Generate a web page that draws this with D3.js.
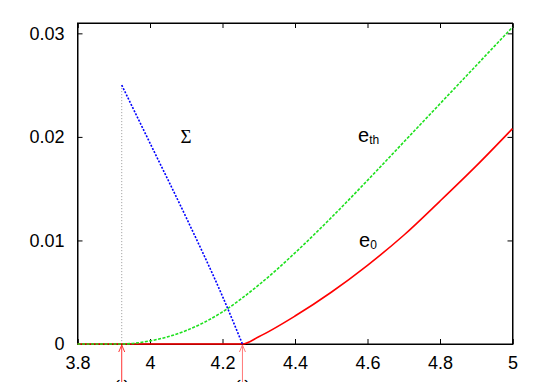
<!DOCTYPE html>
<html>
<head>
<meta charset="utf-8">
<script src="https://cdn.jsdelivr.net/npm/d3@7"></script>
<style>
  body { margin: 0; background: #fff; }
  text { font-family: "Liberation Sans", Arial, sans-serif; }
</style>
</head>
<body>
<div id="chart"></div>
<script>
// curves
var sigmaX = [3.922, 4.0, 4.1, 4.2, 4.255];
var sigmaY = [0.0250, 0.0194, 0.0122, 0.0046, 0];

var ethX = [3.8, 3.92, 4.0, 4.1, 4.2, 4.3, 4.4, 4.5, 4.6, 4.7, 4.8, 4.9, 5.0];
var ethY = [0, 0, 0.0003, 0.0013, 0.0031, 0.0057, 0.0088, 0.0122, 0.0158, 0.0195, 0.0232, 0.0269, 0.0306];

var e0X = [3.8, 4.255, 4.3, 4.4, 4.5, 4.6, 4.7, 4.8, 4.9, 5.0];
var e0Y = [0, 0, 0.0007, 0.0027, 0.0050, 0.0076, 0.0105, 0.0138, 0.0172, 0.0208];

var xTicks = [3.8, 4, 4.2, 4.4, 4.6, 4.8, 5];
var yTicks = [0, 0.01, 0.02, 0.03];
var arrowsX = [3.922, 4.255];

var W = 545, H = 382;
var m = { left: 77.5, right: 32.5, top: 23, bottom: 38 };

var x = d3.scaleLinear().domain([3.8, 5]).range([m.left, W - m.right]);
var y = d3.scaleLinear().domain([0, 0.031]).range([H - m.bottom, m.top]);

var svg = d3.select('#chart')
  .append('svg')
  .attr('width', W)
  .attr('height', H);

svg.append('rect').attr('width', W).attr('height', H).attr('fill', '#fff');

// axes, ticks pointing inward on all four sides
function fmtX(d) { return d3.format('')(+d.toFixed(1)); }
function fmtY(d) { return d === 0 ? '0' : d3.format('.2f')(d); }

var bottom = svg.append('g')
  .attr('transform', 'translate(0,' + y(0) + ')')
  .call(d3.axisBottom(x).tickValues(xTicks).tickSize(-5).tickFormat(fmtX));
bottom.selectAll('text').attr('dy', null).attr('y', 25);

svg.append('g')
  .attr('transform', 'translate(0,' + m.top + ')')
  .call(d3.axisTop(x).tickValues(xTicks).tickSize(-5).tickFormat(''));

var left = svg.append('g')
  .attr('transform', 'translate(' + m.left + ',0)')
  .call(d3.axisLeft(y).tickValues(yTicks).tickSize(-5).tickFormat(fmtY));
left.selectAll('text').attr('x', -13);

svg.append('g')
  .attr('transform', 'translate(' + (W - m.right) + ',0)')
  .call(d3.axisRight(y).tickValues(yTicks).tickSize(-5).tickFormat(''));

svg.selectAll('.domain').attr('stroke', '#000').attr('stroke-width', 1);
svg.selectAll('.tick line').attr('stroke', '#000');
svg.selectAll('.tick text')
  .attr('font-size', 18)
  .attr('fill', '#000')
  .style('font-family', '"Liberation Sans", Arial, sans-serif');

// frame
svg.append('rect')
  .attr('x', m.left).attr('y', m.top)
  .attr('width', x(5) - x(3.8)).attr('height', y(0) - y(0.031))
  .attr('fill', 'none').attr('stroke', '#000').attr('stroke-width', 1);

var line = d3.line()
  .x(function(d) { return x(d[0]); })
  .y(function(d) { return y(d[1]); })
  .curve(d3.curveMonotoneX);

function pairs(a, b) { return a.map(function(v, i) { return [v, b[i]]; }); }

// gray dotted guide at the start of sigma
svg.append('line')
  .attr('x1', x(sigmaX[0])).attr('x2', x(sigmaX[0]))
  .attr('y1', y(sigmaY[0])).attr('y2', y(0))
  .attr('stroke', '#999').attr('stroke-width', 1)
  .attr('stroke-dasharray', '1,2');

svg.append('path')
  .datum(pairs(e0X, e0Y))
  .attr('d', line)
  .attr('fill', 'none').attr('stroke', '#ff0000').attr('stroke-width', 1.6);

svg.append('path')
  .datum(pairs(ethX, ethY))
  .attr('d', line)
  .attr('fill', 'none').attr('stroke', '#1ee01e').attr('stroke-width', 1.6)
  .attr('stroke-dasharray', '3,1.5');

svg.append('path')
  .datum(pairs(sigmaX, sigmaY))
  .attr('d', line)
  .attr('fill', 'none').attr('stroke', '#0000ff').attr('stroke-width', 1.6)
  .attr('stroke-dasharray', '2,1.5');

// arrows under the axis, their labels run off the bottom edge as in the original
var arrowCol = ['#ff3333', '#ff7777'];
arrowsX.forEach(function(v, i) {
  var g = svg.append('g').attr('stroke', arrowCol[i]).attr('stroke-width', 1).attr('fill', 'none');
  var px = x(v), top = y(0) + 1;
  g.append('line').attr('x1', px).attr('x2', px).attr('y1', H).attr('y2', top);
  g.append('path').attr('d', 'M' + (px - 3) + ',' + (top + 7) + 'L' + px + ',' + top + 'L' + (px + 3) + ',' + (top + 7));
  svg.append('text')
    .attr('x', px).attr('y', 389)
    .attr('text-anchor', 'middle')
    .attr('font-size', 16)
    .text('ω');
});

// curve labels
svg.append('text')
  .attr('x', 186).attr('y', 143)
  .attr('text-anchor', 'middle')
  .style('font-family', '"Liberation Serif", "Times New Roman", serif')
  .attr('font-size', 19)
  .text('Σ');

function subLabel(px, py, main, sub) {
  var t = svg.append('text').attr('x', px).attr('y', py).attr('font-size', 20);
  t.append('tspan').text(main);
  t.append('tspan').attr('font-size', 12).attr('dy', 2).text(sub);
}
subLabel(358, 141.5, 'e', 'th');
subLabel(359, 246.5, 'e', '0');
</script>
</body>
</html>
